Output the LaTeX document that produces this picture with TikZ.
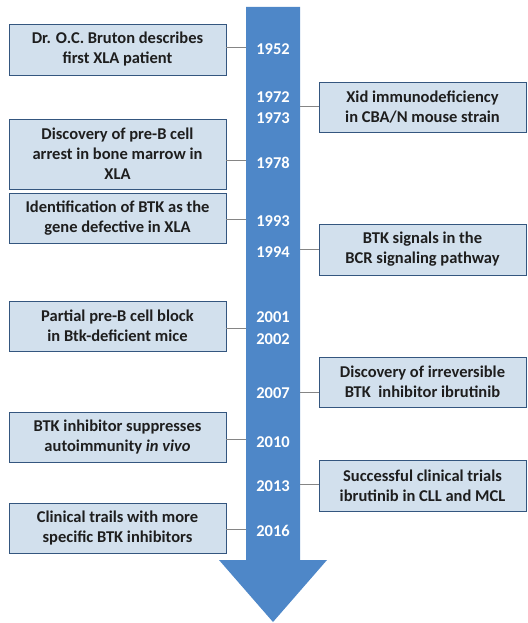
\documentclass[tikz,border=0pt]{standalone}
\usepackage{fontspec}
\setmainfont{Carlito}
\definecolor{arrowblue}{HTML}{4E87C8}
\definecolor{boxfill}{HTML}{D2E0ED}
\definecolor{boxline}{HTML}{34567F}
\definecolor{connline}{HTML}{858585}
\definecolor{txt}{HTML}{1E1E1E}
\tikzset{
  evbox/.style={draw=boxline, line width=0.9pt, fill=boxfill, align=center,
    text=txt, font=\fontsize{16.5}{20}\selectfont\bfseries, inner sep=0pt},
  leftbox/.style={evbox, minimum width=217pt},
  rightbox/.style={evbox, minimum width=207pt},
  year/.style={text=white, font=\fontsize{16.5}{20}\selectfont\bfseries, inner sep=0pt},
  conn/.style={draw=connline, line width=1pt}
}
\begin{document}
\begin{tikzpicture}[x=1pt, y=-1pt]
\useasboundingbox (0,0) rectangle (527,623);
% arrow
\node[minimum width=54pt, minimum height=553pt, inner sep=0pt, outer sep=0pt] (shaft) at (273,283.5) {};
\coordinate (tip) at (273,622);
\fill[arrowblue] (shaft.north west) -- (shaft.north east) -- (shaft.south east)
  -- (327,560) -- (tip) -- (219,560) -- (shaft.south west) -- cycle;
% years
\node[year] (y1952) at (273,49) {1952};
\node[year] (y1972) at (273,97) {1972};
\node[year] (y1973) at (273,118) {1973};
\node[year] (y1978) at (273,163) {1978};
\node[year] (y1993) at (273,221) {1993};
\node[year] (y1994) at (273,252) {1994};
\node[year] (y2001) at (273,317) {2001};
\node[year] (y2002) at (273,339) {2002};
\node[year] (y2007) at (273,393) {2007};
\node[year] (y2010) at (273,442) {2010};
\node[year] (y2013) at (273,486) {2013};
\node[year] (y2016) at (273,531) {2016};
% left boxes
\node[leftbox, minimum height=51pt] (b1) at (117.5,49.5) {Dr. O.C. Bruton describes\\first XLA patient};
\node[leftbox, minimum height=70pt] (b3) at (117.5,154) {Discovery of pre-B cell\\arrest in bone marrow in\\XLA};
\node[leftbox, minimum height=50pt] (b4) at (117.5,218) {Identification of BTK as the\\gene defective in XLA};
\node[leftbox, minimum height=50pt] (b6) at (117.5,326) {Partial pre-B cell block\\in Btk-deficient mice};
\node[leftbox, minimum height=50pt] (b8) at (117.5,437) {BTK inhibitor suppresses\\autoimmunity \textit{in vivo}};
\node[leftbox, minimum height=50pt] (b10) at (117.5,528) {Clinical trails with more\\specific BTK inhibitors};
% right boxes
\node[rightbox, minimum height=50pt] (b2) at (422.5,107) {Xid immunodeficiency\\in CBA/N mouse strain};
\node[rightbox, minimum height=51pt] (b5) at (422.5,249.5) {BTK signals in the\\BCR signaling pathway};
\node[rightbox, minimum height=50pt] (b7) at (422.5,382) {Discovery of irreversible\\BTK~ inhibitor ibrutinib};
\node[rightbox, minimum height=51pt] (b9) at (422.5,485.5) {Successful clinical trials\\ibrutinib in CLL and MCL};
% connector ends on the shaft
\coordinate (k1) at (246,48);
\coordinate (k3) at (246,160);
\coordinate (k4) at (246,219);
\coordinate (k6) at (246,328);
\coordinate (k8) at (246,439);
\coordinate (k10) at (246,529);
\coordinate (k2) at (300,107);
\coordinate (k5) at (300,249);
\coordinate (k7) at (300,392);
\coordinate (k9) at (300,484);
\draw[conn] (b1.east |- k1) -- (k1);
\draw[conn] (b3.east |- k3) -- (k3);
\draw[conn] (b4.east |- k4) -- (k4);
\draw[conn] (b6.east |- k6) -- (k6);
\draw[conn] (b8.east |- k8) -- (k8);
\draw[conn] (b10.east |- k10) -- (k10);
\draw[conn] (b2.west |- k2) -- (k2);
\draw[conn] (b5.west |- k5) -- (k5);
\draw[conn] (b7.west |- k7) -- (k7);
\draw[conn] (b9.west |- k9) -- (k9);
\end{tikzpicture}
\end{document}
